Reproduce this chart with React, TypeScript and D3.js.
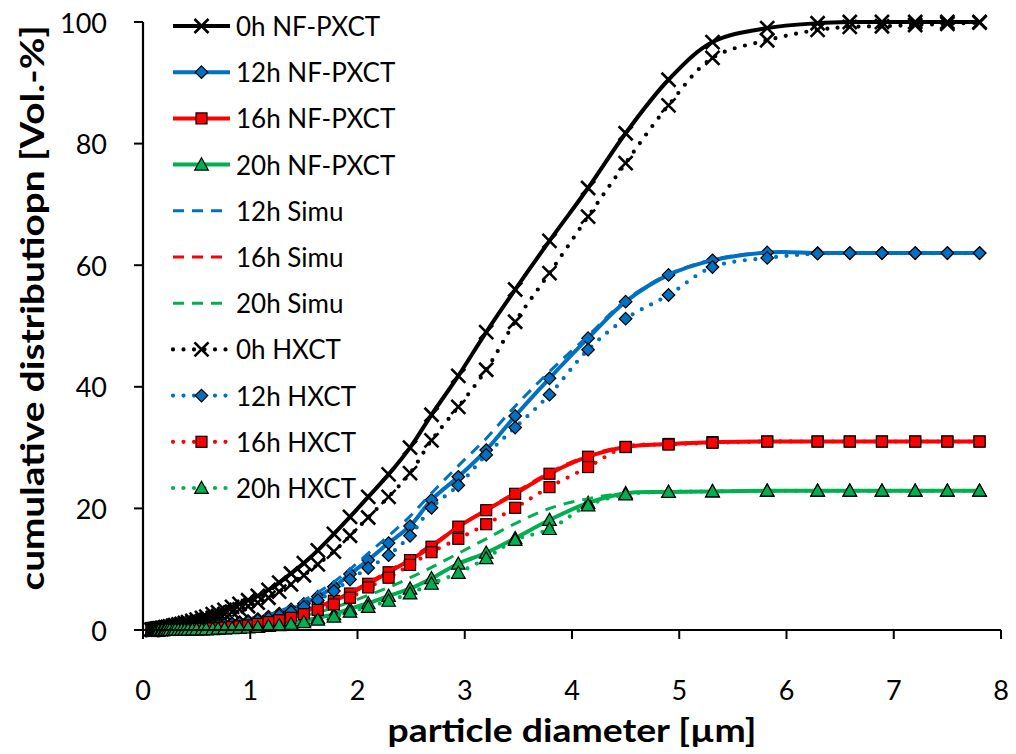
import React from "react";
import * as d3 from "d3";

const xGrid = [
  0.08, 0.09, 0.10, 0.11, 0.12,
  0.13, 0.14, 0.15, 0.17, 0.18,
  0.20, 0.21, 0.23, 0.25, 0.28,
  0.30, 0.33, 0.36, 0.39, 0.42,
  0.46, 0.50, 0.55, 0.59, 0.65,
  0.70, 0.76, 0.83, 0.90, 0.98,
  1.07, 1.17, 1.27, 1.38, 1.50,
  1.63, 1.78, 1.93, 2.10, 2.29,
  2.49, 2.69, 2.94, 3.20, 3.47,
  3.79, 4.15, 4.50, 4.90, 5.31,
  5.82, 6.29, 6.59, 6.89, 7.20,
  7.50, 7.80,
];

const nf0h = [
  0.05, 0.05, 0.1, 0.1, 0.15,
  0.2, 0.2, 0.25, 0.3, 0.35,
  0.4, 0.45, 0.5, 0.6, 0.7,
  0.8, 0.9, 1.0, 1.15, 1.3,
  1.5, 1.7, 2.0, 2.2, 2.6,
  2.9, 3.3, 3.8, 4.3, 4.9,
  5.6, 6.6, 7.8, 9.3, 11.0,
  13.1, 15.8, 18.6, 21.9, 25.6,
  30.0, 35.4, 41.8, 49.0, 56.0,
  64.0, 72.7, 81.7, 90.5, 96.7,
  99.0, 99.8, 100, 100, 100,
  100, 100,
];
const nf12h = [
  0, 0, 0, 0, 0,
  0, 0.05, 0.05, 0.05, 0.05,
  0.1, 0.1, 0.1, 0.15, 0.15,
  0.2, 0.2, 0.25, 0.3, 0.35,
  0.4, 0.45, 0.55, 0.6, 0.7,
  0.8, 0.95, 1.1, 1.3, 1.5,
  1.8, 2.2, 2.7, 3.4, 4.3,
  5.5, 7.1, 9.2, 11.5, 14.3,
  17.1, 21.4, 25.2, 29.6, 35.2,
  41.4, 48.0, 54.0, 58.4, 60.8,
  62.1, 62.0, 62.0, 62.0, 62.0,
  62.0, 62.0,
];
const nf16h = [
  0, 0, 0, 0, 0,
  0, 0, 0, 0, 0,
  0, 0.05, 0.05, 0.05, 0.05,
  0.05, 0.1, 0.1, 0.1, 0.15,
  0.15, 0.2, 0.2, 0.25, 0.3,
  0.35, 0.45, 0.55, 0.7, 0.9,
  1.2, 1.5, 1.9, 2.4, 3.0,
  3.8, 4.8, 6.0, 7.6, 9.5,
  11.5, 13.7, 17.0, 19.7, 22.4,
  25.7, 28.5, 30.1, 30.6, 30.9,
  31.0, 31.0, 31.0, 31.0, 31.0,
  31.0, 31.0,
];
const nf20h = [
  0, 0, 0, 0, 0,
  0, 0, 0, 0, 0,
  0, 0, 0, 0, 0.05,
  0.05, 0.05, 0.05, 0.05, 0.1,
  0.1, 0.1, 0.15, 0.15, 0.2,
  0.25, 0.3, 0.35, 0.4, 0.5,
  0.6, 0.8, 1.0, 1.2, 1.5,
  2.0, 2.6, 3.5, 4.4, 5.6,
  6.8, 8.5, 10.9, 12.7, 15.1,
  18.1, 20.9, 22.5, 22.7, 22.8,
  22.9, 22.9, 22.9, 22.9, 22.9,
  22.9, 22.9,
];
const simu12h = [
  0, 0, 0, 0, 0,
  0, 0.05, 0.05, 0.05, 0.05,
  0.1, 0.1, 0.1, 0.15, 0.15,
  0.2, 0.2, 0.25, 0.3, 0.35,
  0.4, 0.45, 0.55, 0.65, 0.75,
  0.85, 1.0, 1.2, 1.4, 1.7,
  2.0, 2.5, 3.1, 3.9, 4.9,
  6.2, 7.9, 10.0, 12.6, 15.5,
  18.7, 22.5, 27.0, 31.5, 36.8,
  42.5, 48.4, 54.2, 58.5, 60.9,
  62.1, 62.0, 62.0, 62.0, 62.0,
  62.0, 62.0,
];
const simu16h = [
  0, 0, 0, 0, 0,
  0, 0, 0, 0, 0,
  0, 0.05, 0.05, 0.05, 0.05,
  0.05, 0.1, 0.1, 0.1, 0.15,
  0.15, 0.2, 0.2, 0.25, 0.3,
  0.35, 0.45, 0.55, 0.7, 0.9,
  1.2, 1.5, 1.9, 2.4, 3.0,
  3.8, 4.9, 6.2, 7.8, 9.7,
  11.8, 14.0, 17.0, 19.8, 22.6,
  25.9, 28.7, 30.2, 30.6, 30.9,
  31.0, 31.0, 31.0, 31.0, 31.0,
  31.0, 31.0,
];
const simu20h = [
  0, 0, 0, 0, 0,
  0, 0, 0, 0, 0,
  0, 0, 0, 0, 0.05,
  0.05, 0.05, 0.05, 0.1, 0.1,
  0.1, 0.15, 0.15, 0.2, 0.25,
  0.3, 0.35, 0.45, 0.55, 0.7,
  0.85, 1.1, 1.4, 1.8, 2.3,
  2.9, 3.7, 4.6, 5.7, 7.0,
  8.6, 10.3, 12.6, 15.0, 17.5,
  20.0, 21.6, 22.5, 22.7, 22.8,
  22.9, 22.9, 22.9, 22.9, 22.9,
  22.9, 22.9,
];
const hx0h = [
  0.05, 0.05, 0.05, 0.1, 0.1,
  0.1, 0.15, 0.2, 0.2, 0.25,
  0.3, 0.35, 0.4, 0.45, 0.55,
  0.6, 0.7, 0.8, 0.9, 1.0,
  1.2, 1.3, 1.5, 1.7, 2.0,
  2.3, 2.6, 3.0, 3.4, 3.9,
  4.5, 5.3, 6.3, 7.5, 9.0,
  10.8, 12.9, 15.5, 18.5, 21.9,
  25.8, 31.2, 36.7, 42.8, 50.7,
  58.7, 68.0, 76.8, 86.3, 94.1,
  97.0, 98.7, 99.2, 99.3, 99.5,
  99.7, 99.9,
];
const hx12h = [
  0, 0, 0, 0, 0,
  0, 0, 0.05, 0.05, 0.05,
  0.05, 0.1, 0.1, 0.1, 0.15,
  0.15, 0.2, 0.2, 0.25, 0.3,
  0.35, 0.4, 0.45, 0.5, 0.6,
  0.7, 0.8, 0.95, 1.1, 1.3,
  1.6, 1.9, 2.4, 3.0, 3.8,
  4.9, 6.4, 8.3, 10.2, 12.3,
  15.5, 20.1, 23.8, 28.8, 33.3,
  38.7, 46.1, 51.2, 55.1, 59.7,
  61.2, 61.9, 62.0, 62.0, 62.0,
  62.0, 62.0,
];
const hx16h = [
  0, 0, 0, 0, 0,
  0, 0, 0, 0, 0,
  0, 0, 0.05, 0.05, 0.05,
  0.05, 0.05, 0.1, 0.1, 0.1,
  0.15, 0.15, 0.2, 0.2, 0.25,
  0.3, 0.4, 0.5, 0.6, 0.75,
  1.0, 1.3, 1.6, 2.0, 2.6,
  3.3, 4.2, 5.3, 7.0, 8.6,
  10.7, 12.8, 15.0, 17.4, 20.1,
  23.5, 26.8, 30.1, 30.5, 30.8,
  31.0, 31.0, 31.0, 31.0, 31.0,
  31.0, 31.0,
];
const hx20h = [
  0, 0, 0, 0, 0,
  0, 0, 0, 0, 0,
  0, 0, 0, 0, 0,
  0.05, 0.05, 0.05, 0.05, 0.05,
  0.1, 0.1, 0.1, 0.15, 0.15,
  0.2, 0.25, 0.3, 0.35, 0.4,
  0.5, 0.65, 0.8, 1.0, 1.3,
  1.7, 2.2, 3.0, 3.8, 4.8,
  6.0, 7.6, 9.4, 11.8, 14.8,
  16.6, 20.5, 22.3, 22.7, 22.8,
  22.9, 22.9, 22.9, 22.9, 22.9,
  22.9, 22.9,
];

const xTicks = [0, 1, 2, 3, 4, 5, 6, 7, 8];
const yTicks = [0, 20, 40, 60, 80, 100];

const BLACK = "#000000";
const BLUE = "#0070C0";
const RED = "#FF0000";
const GREEN = "#00B050";

type Style = "solid" | "dash" | "dot";
type Marker = "x" | "diamond" | "square" | "triangle" | "none";

const seriesList: { name: string; values: number[]; color: string; style: Style; marker: Marker }[] = [
  { name: "0h NF-PXCT", values: nf0h, color: BLACK, style: "solid", marker: "x" },
  { name: "12h NF-PXCT", values: nf12h, color: BLUE, style: "solid", marker: "diamond" },
  { name: "16h NF-PXCT", values: nf16h, color: RED, style: "solid", marker: "square" },
  { name: "20h NF-PXCT", values: nf20h, color: GREEN, style: "solid", marker: "triangle" },
  { name: "12h Simu", values: simu12h, color: BLUE, style: "dash", marker: "none" },
  { name: "16h Simu", values: simu16h, color: RED, style: "dash", marker: "none" },
  { name: "20h Simu", values: simu20h, color: GREEN, style: "dash", marker: "none" },
  { name: "0h HXCT", values: hx0h, color: BLACK, style: "dot", marker: "x" },
  { name: "12h HXCT", values: hx12h, color: BLUE, style: "dot", marker: "diamond" },
  { name: "16h HXCT", values: hx16h, color: RED, style: "dot", marker: "square" },
  { name: "20h HXCT", values: hx20h, color: GREEN, style: "dot", marker: "triangle" },
];

const FONT = "Lato, 'Open Sans', sans-serif";

function lineProps(style: Style, color: string) {
  if (style === "solid") return { stroke: color, strokeWidth: 4 };
  if (style === "dash") return { stroke: color, strokeWidth: 3, strokeDasharray: "11 8" };
  return { stroke: color, strokeWidth: 4.2, strokeDasharray: "0 10.5", strokeLinecap: "round" as const };
}

function MarkerShape({ kind, x, y, color, scale = 1 }: { kind: Marker; x: number; y: number; color: string; scale?: number }) {
  if (kind === "x") {
    const s = 7 * scale;
    return (
      <g stroke="#000" strokeWidth={2.6}>
        <line x1={x - s} y1={y - s} x2={x + s} y2={y + s} />
        <line x1={x - s} y1={y + s} x2={x + s} y2={y - s} />
      </g>
    );
  }
  if (kind === "diamond") {
    const s = 6.3 * scale;
    return <path d={`M${x},${y - s}L${x + s},${y}L${x},${y + s}L${x - s},${y}Z`} fill={color} stroke="#000" strokeWidth={1.2} />;
  }
  if (kind === "square") {
    const s = 5.5 * scale;
    return <rect x={x - s} y={y - s} width={2 * s} height={2 * s} fill={color} stroke="#000" strokeWidth={1.2} />;
  }
  if (kind === "triangle") {
    const s = 6.8 * scale;
    return <path d={`M${x},${y - s}L${x + s},${y + s * 0.8}L${x - s},${y + s * 0.8}Z`} fill={color} stroke="#000" strokeWidth={1.2} />;
  }
  return null;
}

export default function App() {
  const W = 1016;
  const H = 754;
  const x = d3.scaleLinear().domain([0, 8]).range([143, 1001]);
  const y = d3.scaleLinear().domain([0, 100]).range([630, 22]);

  const line = d3
    .line<[number, number]>()
    .x((d) => x(d[0]))
    .y((d) => y(d[1]))
    .curve(d3.curveCatmullRom.alpha(0.5));

  const legendY0 = 26;
  const legendStep = 46.2;

  return (
    <div style={{ position: "absolute", left: 0, top: 0 }}>
      <svg width={W} height={H} style={{ display: "block", background: "#fff" }} fontFamily={FONT}>
        {seriesList.map((s) => {
          const pts = xGrid.map((xv, i) => [xv, s.values[i]] as [number, number]);
          return (
            <g key={s.name}>
              <path d={line(pts) || ""} fill="none" {...lineProps(s.style, s.color)} />
              {s.marker !== "none" &&
                pts.map((p, i) => <MarkerShape key={i} kind={s.marker} x={x(p[0])} y={y(p[1])} color={s.color} />)}
            </g>
          );
        })}

        <line x1={x(0)} y1={y(0)} x2={x(8)} y2={y(0)} stroke="#000" strokeWidth={2.2} />
        <line x1={x(0)} y1={y(0) + 1} x2={x(0)} y2={y(100)} stroke="#000" strokeWidth={2.2} />
        {xTicks.map((t) => (
          <g key={"xt" + t}>
            <line x1={x(t)} y1={y(0)} x2={x(t)} y2={y(0) + 9} stroke="#000" strokeWidth={2} />
            <text x={x(t)} y={700} textAnchor="middle" fontSize={27}>
              {t}
            </text>
          </g>
        ))}
        {yTicks.map((t) => (
          <g key={"yt" + t}>
            <line x1={x(0) - 9} y1={y(t)} x2={x(0)} y2={y(t)} stroke="#000" strokeWidth={2} />
            <text x={x(0) - 36} y={y(t)} textAnchor="end" dominantBaseline="central" fontSize={27}>
              {t}
            </text>
          </g>
        ))}

        <text
          x={572}
          y={742}
          textAnchor="middle"
          fontSize={33}
          fontWeight="bold"
          textLength={369}
          lengthAdjust="spacingAndGlyphs"
        >
          particle diameter [µm]
        </text>
        <text
          transform={`translate(31,${308}) rotate(-90)`}
          textAnchor="middle"
          dominantBaseline="central"
          fontSize={32}
          fontWeight="bold"
          textLength={565}
          lengthAdjust="spacingAndGlyphs"
        >
          cumulative distributiopn [Vol.-%]
        </text>

        {seriesList.map((s, i) => {
          const ly = legendY0 + i * legendStep;
          return (
            <g key={"lg" + s.name}>
              <line x1={173} y1={ly} x2={230} y2={ly} fill="none" {...lineProps(s.style, s.color)} />
              {s.marker !== "none" && <MarkerShape kind={s.marker} x={201.5} y={ly} color={s.color} />}
              <text x={236} y={ly} dominantBaseline="central" fontSize={26}>
                {s.name}
              </text>
            </g>
          );
        })}
      </svg>
    </div>
  );
}
